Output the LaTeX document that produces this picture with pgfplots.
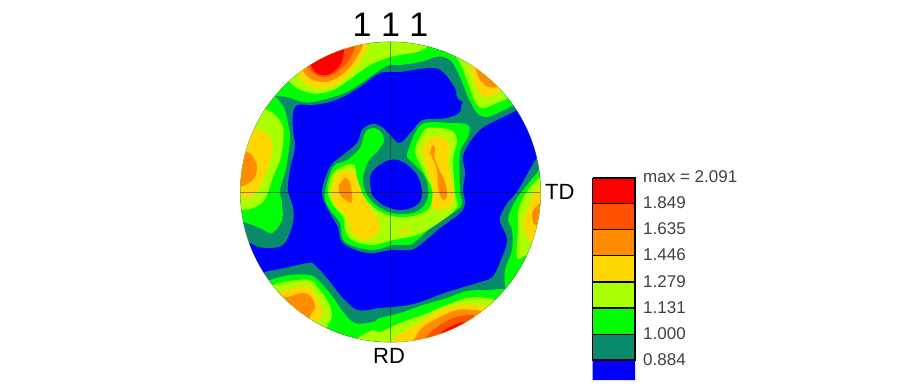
\documentclass[border=0pt]{standalone}
\usepackage{fontspec}
\setmainfont{Liberation Sans}
\usepackage{pgfplots}
\pgfplotsset{compat=1.18}

\definecolor{cred}{HTML}{FF0000}
\definecolor{cror}{HTML}{FF5000}
\definecolor{cora}{HTML}{FF8C00}
\definecolor{cyel}{HTML}{FFD700}
\definecolor{clim}{HTML}{AAFF00}
\definecolor{cgrn}{HTML}{00FF00}
\definecolor{cted}{HTML}{088B6B}
\definecolor{cblu}{HTML}{0000FF}

\pgfplotsset{
  reg/.style={draw=none, fill=#1, smooth, tension=0.6, no markers, forget plot},
  box/.style={draw=black, line width=1.4pt, fill=#1, no markers, forget plot},
}

\begin{document}
\begin{tikzpicture}
\begin{axis}[
    scale only axis,
    width=923pt, height=390pt,
    xmin=0, xmax=923, ymin=0, ymax=390,
    y dir=reverse,
    hide axis,
]
% keeps the page as large as the reference
\addplot[white, opacity=0, no markers, forget plot] coordinates {(0,0) (923,0) (923,390) (0,390) (0,0)};
\path (axis cs:0,0) -- (axis cs:923,390);

% colour key
\addplot[box=cred] coordinates {(592.5,178) (635,178) (635,203.5) (592.5,203.5) (592.5,178)};
\addplot[box=cror] coordinates {(592.5,203.5) (635,203.5) (635,229.5) (592.5,229.5) (592.5,203.5)};
\addplot[box=cora] coordinates {(592.5,229.5) (635,229.5) (635,255.5) (592.5,255.5) (592.5,229.5)};
\addplot[box=cyel] coordinates {(592.5,255.5) (635,255.5) (635,282) (592.5,282) (592.5,255.5)};
\addplot[box=clim] coordinates {(592.5,282) (635,282) (635,308) (592.5,308) (592.5,282)};
\addplot[box=cgrn] coordinates {(592.5,308) (635,308) (635,334.5) (592.5,334.5) (592.5,308)};
\addplot[box=cted] coordinates {(592.5,334.5) (635,334.5) (635,360) (592.5,360) (592.5,334.5)};
\addplot[draw=none, fill=cblu, no markers, forget plot] coordinates {(592.5,360) (635,360) (635,380) (592.5,380) (592.5,360)};
\addplot[black, line width=1.4pt, no markers, forget plot] coordinates {(592.5,360) (635,360)};

\begin{scope}[every node/.style={font=\fontsize{17}{17}\selectfont, text=black!75, anchor=west, inner sep=0pt}]
\node at (axis cs:643,177) {max = 2.091};
\node at (axis cs:643,203) {1.849};
\node at (axis cs:643,229) {1.635};
\node at (axis cs:643,255) {1.446};
\node at (axis cs:643,282) {1.279};
\node at (axis cs:643,308) {1.131};
\node at (axis cs:643,334) {1.000};
\node at (axis cs:643,360) {0.884};
\end{scope}
\node[font=\fontsize{34}{34}\selectfont, inner sep=0pt] at (axis cs:390.5,25) {1 1 1};
\node[font=\fontsize{22}{22}\selectfont, inner sep=0pt, anchor=west] at (axis cs:545,192) {TD};
\node[font=\fontsize{22}{22}\selectfont, inner sep=0pt] at (axis cs:389,356) {RD};

\draw[olive!70!black, line width=0.8pt] (axis cs:390.5,192) circle [radius=150];
\clip (axis cs:390.5,192) circle [radius=150];

% base level
\addplot[draw=none, fill=cted, no markers, forget plot] coordinates {(230,30) (550,30) (550,350) (230,350) (230,30)};

% blue, everything below 0.884
\addplot[reg=cblu] coordinates {
 (550,150) (535,100) (517,110) (463,102) (455,88) (443,72) (430,68) (400,72) (380,73)
 (363,85) (347,95) (330,102) (313,105) (298,105) (293,113) (293,130) (295,147)
 (290,170) (288,190) (293,207) (293,223) (285,243) (273,248) (258,247) (248,243)
 (232,250) (245,282) (265,272) (280,269) (308,263) (315,265) (327,278) (343,298) (358,310)
 (380,308) (413,304) (447,292) (480,282) (492,277) (500,262) (507,240) (500,222) (502,212)
 (508,202) (518,190) (537,158) (550,150)};

% ring and the bridge out to the edge
\addplot[reg=cted] coordinates {
 (510,85) (480,90) (463,102) (460,112) (447,118) (423,120) (413,130) (400,143) (390,135) (382,127) (372,124)
 (362,130) (357,143) (343,155) (330,167) (322,193) (330,213) (338,227) (343,243) (367,253)
 (392,250) (410,250) (420,245) (440,228) (460,213) (465,203) (463,190) (465,173) (463,157)
 (468,145) (477,133) (487,125) (517,110) (530,100) (510,85)};

% green
\addplot[reg=cgrn] coordinates {
 (268,92) (275,96) (287,97) (302,102) (313,102) (330,98) (347,92) (363,82) (377,72) (390,65)
 (400,65) (420,62) (436,57) (444,57) (452,62) (460,77) (468,97) (477,113) (487,117) (500,112)
 (512,106) (525,100) (540,60) (390,25) (250,60) (268,92)};
\addplot[reg=cgrn] coordinates {
 (268,92) (275,96) (280,102) (285,110) (288,123) (290,137) (288,157) (285,173) (280,190)
 (282,203) (282,220) (272,233) (260,228) (243,222) (225,220) (225,100) (268,92)};
\addplot[reg=cgrn] coordinates {
 (262,284) (270,280) (290,275) (310,275) (320,282) (333,297) (343,312) (355,323) (373,322)
 (380,318) (400,313) (423,305) (447,298) (467,291) (490,290) (503,289) (515,295) (520,360)
 (260,360) (262,284)};
\addplot[reg=cgrn] coordinates {
 (505,292) (505,285) (505,270) (512,250) (512,230) (508,220) (513,205) (523,190) (537,173)
 (545,165) (560,200) (540,300) (505,292)};
\addplot[reg=cgrn] coordinates {
 (384,142) (377,152) (368,162) (363,180) (367,195) (380,208) (398,214) (418,211) (428,197)
 (425,177) (410,160) (407,155) (415,133) (425,123) (450,123) (468,125) (468,137) (460,153)
 (460,190) (462,203) (457,210) (437,223) (417,240) (410,245) (393,245) (373,250) (350,245)
 (342,237) (340,223) (328,207) (325,193) (333,167) (347,160) (360,148) (365,133) (373,128)
 (382,133) (384,142)};

% lime
\addplot[reg=clim] coordinates {
 (283,72) (290,82) (297,88) (310,93) (323,93) (337,88) (353,77) (370,65) (390,57) (400,55)
 (417,52) (427,47) (432,35) (300,30) (283,72)};
\addplot[reg=clim] coordinates {
 (450,50) (460,63) (468,83) (475,102) (483,108) (497,103) (508,98) (525,88) (520,50) (450,50)};
\addplot[reg=clim] coordinates {
 (258,106) (267,110) (275,115) (283,127) (283,143) (280,160) (273,177) (268,192) (263,202)
 (253,208) (242,210) (225,212) (225,110) (258,106)};
\addplot[reg=clim] coordinates {
 (265,287) (273,285) (290,281) (310,280) (318,288) (327,300) (332,315) (327,327) (322,345)
 (280,330) (265,287)};
\addplot[reg=clim] coordinates {
 (350,345) (358,338) (373,330) (380,332) (400,323) (423,315) (447,305) (467,298) (487,298)
 (495,300) (505,305) (470,355) (350,345)};
\addplot[reg=clim] coordinates {
 (545,255) (527,255) (517,258) (518,230) (518,213) (522,200) (528,190) (535,182) (540,178)
 (555,175) (555,250) (545,255)};
\addplot[reg=clim] coordinates {
 (355,165) (358,183) (363,195) (377,210) (397,217) (417,215) (430,207) (432,190) (423,170)
 (415,152) (420,137) (428,128) (450,130) (457,140) (453,160) (455,193) (457,207) (440,222)
 (417,235) (393,240) (372,245) (352,240) (345,230) (343,217) (333,205) (328,192) (333,173)
 (347,165) (355,165)};

% yellow
\addplot[reg=cyel] coordinates {
 (295,68) (302,80) (313,87) (327,88) (340,82) (353,70) (363,57) (368,45) (370,32) (310,35) (295,68)};
\addplot[reg=cyel] coordinates {
 (462,55) (468,63) (475,83) (483,97) (495,95) (503,90) (520,78) (500,50) (462,55)};
\addplot[reg=cyel] coordinates {
 (248,128) (260,130) (270,137) (272,150) (267,170) (260,187) (258,190) (250,198) (240,198)
 (225,198) (225,128) (248,128)};
\addplot[reg=cyel] coordinates {
 (270,293) (278,292) (297,287) (310,288) (318,300) (323,312) (318,322) (312,340) (285,325) (270,293)};
\addplot[reg=cyel] coordinates {
 (385,350) (393,340) (403,332) (420,322) (440,310) (460,305) (477,305) (487,307) (500,320)
 (440,355) (385,350)};
\addplot[reg=cyel] coordinates {
 (545,245) (533,243) (527,237) (523,223) (528,207) (535,193) (545,185) (555,200) (545,245)};
\addplot[reg=cyel] coordinates {
 (428,138) (443,137) (450,147) (448,163) (452,183) (453,202) (443,210) (432,207) (433,190)
 (427,167) (422,150) (428,138)};
\addplot[reg=cyel] coordinates {
 (333,185) (338,173) (353,172) (360,187) (365,200) (378,220) (378,233) (365,240) (352,232)
 (347,217) (337,207) (332,197) (333,185)};
\addplot[reg=cyel] coordinates {(397,231) (410,227) (405,232) (397,231)};

% orange
\addplot[reg=cora] coordinates {
 (298,62) (308,77) (323,82) (337,78) (350,67) (358,55) (363,45) (365,32) (315,35) (298,62)};
\addplot[reg=cora] coordinates {
 (468,60) (475,68) (480,80) (488,87) (497,87) (510,82) (495,55) (468,60)};
\addplot[reg=cora] coordinates {
 (240,148) (247,152) (252,155) (257,167) (253,180) (240,187) (225,190) (225,150) (240,148)};
\addplot[reg=cora] coordinates {
 (278,290) (285,297) (303,293) (312,298) (315,307) (310,317) (305,335) (280,310) (278,290)};
\addplot[reg=cora] coordinates {
 (410,345) (415,338) (423,327) (440,317) (457,310) (473,310) (482,312) (490,325) (440,350) (410,345)};
\addplot[reg=cora] coordinates {
 (550,228) (535,225) (532,213) (538,205) (550,195) (555,215) (550,228)};
\addplot[reg=cora] coordinates {
 (339,185) (345,178) (350,183) (352,202) (343,198) (339,192) (339,185)};
\addplot[reg=cora] coordinates {
 (430,153) (432,146) (435,148) (435,160) (445,182) (447,195) (443,200) (438,188) (437,170)
 (431,155) (430,153)};

% red-orange
\addplot[reg=cror] coordinates {
 (303,60) (312,72) (323,77) (335,73) (347,63) (353,53) (355,47) (357,32) (320,35) (303,60)};
\addplot[reg=cror] coordinates {
 (420,345) (428,335) (437,327) (453,318) (470,315) (475,317) (485,330) (440,350) (420,345)};

% red
\addplot[reg=cred] coordinates {
 (308,58) (315,72) (327,75) (338,68) (343,58) (344,48) (345,32) (320,35) (308,58)};
\addplot[reg=cred] coordinates {
 (435,340) (442,332) (450,327) (465,322) (475,330) (445,348) (435,340)};

% hole in the middle
\addplot[reg=cblu] coordinates {
 (372,195) (370,177) (377,167) (390,160) (403,162) (417,175) (422,193) (417,205) (400,210)
 (383,205) (372,195)};

% cross
\addplot[black, opacity=0.4, line width=0.6pt, no markers, forget plot] coordinates {(240,192) (541,192)};
\addplot[black, opacity=0.4, line width=0.6pt, no markers, forget plot] coordinates {(390.5,42) (390.5,342)};
\end{axis}
\end{tikzpicture}
\end{document}
